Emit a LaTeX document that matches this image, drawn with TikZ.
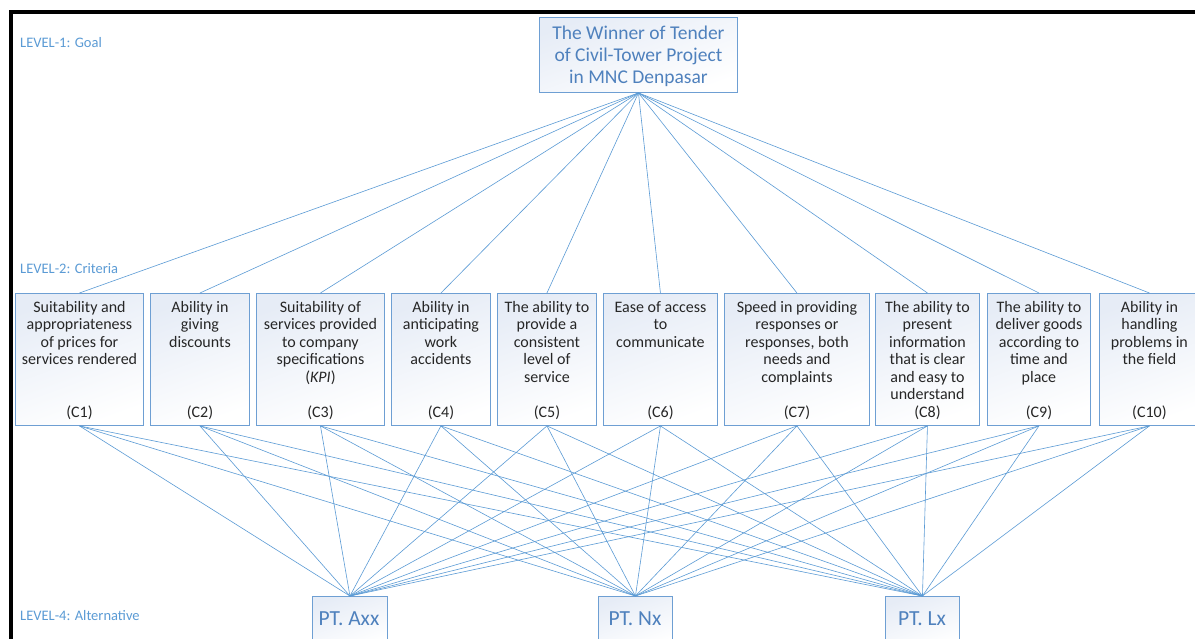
\documentclass[tikz,border=0pt]{standalone}
\usepackage{fontspec}
\setmainfont{Carlito}
\definecolor{lineblue}{HTML}{5B9BD5}
\definecolor{boxblue}{HTML}{6E9FD3}
\definecolor{goaltext}{HTML}{4F81BD}
\definecolor{lvltext}{HTML}{5B9BD5}
\definecolor{crittext}{HTML}{262626}
\definecolor{shadeblue}{HTML}{E6ECF6}
\begin{document}
\begin{tikzpicture}[x=1pt,y=-1pt,
  boxst/.style={draw=boxblue, line width=0.9pt, top color=shadeblue, bottom color=white, shading angle=20, inner sep=0pt, anchor=north west},
  crittxt/.style={font=\fontsize{16}{17.5}\selectfont, text=crittext, align=center, inner sep=0pt, anchor=north},
  cid/.style={font=\fontsize{16}{17.5}\selectfont, text=crittext, inner sep=0pt},
  lvl/.style={font=\fontsize{14.5}{16}\selectfont, text=lvltext, anchor=west, inner sep=0pt},
  conn/.style={draw=lineblue, line width=0.6pt},
  goaltxt/.style={font=\fontsize{19.5}{22}\selectfont, text=goaltext, align=center, inner sep=0pt},
  alttxt/.style={font=\fontsize{21.5}{24}\selectfont, text=goaltext, inner sep=0pt}
]
\useasboundingbox (0,0) rectangle (1195,638);
\fill[white] (0,0) rectangle (1195,638);
% black frame
\draw[line width=4pt] (11,640) -- (11,12) -- (1197,12);

% level labels
\node[lvl] (l1) at (20,43) {LEVEL-1: Goal};
\node[lvl] (l2) at (20,269) {LEVEL-2: Criteria};
\node[lvl] (l4) at (20,616) {LEVEL-4: Alternative};

% goal
\node[boxst, minimum width=198, minimum height=75] (goal) at (539,17) {};
\node[goaltxt] (goalt) at ([yshift=-1.5pt]goal.center) {The Winner of Tender\\of Civil-Tower Project\\in MNC Denpasar};

% criteria boxes
\node[boxst, minimum width=128, minimum height=132] (c1) at (15,293) {};
\node[boxst, minimum width=99, minimum height=132] (c2) at (150,293) {};
\node[boxst, minimum width=128, minimum height=132] (c3) at (256,293) {};
\node[boxst, minimum width=99, minimum height=132] (c4) at (391,293) {};
\node[boxst, minimum width=99, minimum height=132] (c5) at (497,293) {};
\node[boxst, minimum width=114, minimum height=132] (c6) at (603,293) {};
\node[boxst, minimum width=145, minimum height=132] (c7) at (724,293) {};
\node[boxst, minimum width=104, minimum height=132] (c8) at (875,293) {};
\node[boxst, minimum width=103, minimum height=132] (c9) at (987,293) {};
\node[boxst, minimum width=100, minimum height=132] (c10) at (1099,293) {};

\node[crittxt] (t1) at ([yshift=-8pt]c1.north) {Suitability and\\appropriateness\\of prices for\\services rendered};
\node[crittxt] (t2) at ([yshift=-8pt]c2.north) {Ability in\\giving\\discounts};
\node[crittxt] (t3) at ([yshift=-8pt]c3.north) {Suitability of\\services provided\\to company\\specifications\\(\textit{KPI})};
\node[crittxt] (t4) at ([yshift=-8pt]c4.north) {Ability in\\anticipating\\work\\accidents};
\node[crittxt] (t5) at ([yshift=-8pt]c5.north) {The ability to\\provide a\\consistent\\level of\\service};
\node[crittxt] (t6) at ([yshift=-8pt]c6.north) {Ease of access\\to\\communicate};
\node[crittxt] (t7) at ([yshift=-8pt]c7.north) {Speed in providing\\responses or\\responses, both\\needs and\\complaints};
\node[crittxt] (t8) at ([yshift=-8pt]c8.north) {The ability to\\present\\information\\that is clear\\and easy to\\understand};
\node[crittxt] (t9) at ([yshift=-8pt]c9.north) {The ability to\\deliver goods\\according to\\time and\\place};
\node[crittxt] (t10) at ([yshift=-8pt]c10.north) {Ability in\\handling\\problems in\\the field};

\foreach \i in {1,...,10} {
  \node[cid] (id\i) at ([yshift=13pt]c\i.south) {(C\i)};
}

% alternatives
\node[boxst, minimum width=75, minimum height=50] (a1) at (312,596) {};
\node[boxst, minimum width=74, minimum height=50] (a2) at (598,596) {};
\node[boxst, minimum width=74, minimum height=50] (a3) at (885,596) {};
\node[alttxt] (at1) at (349,619) {PT. Axx};
\node[alttxt] (at2) at (635,619) {PT. Nx};
\node[alttxt] (at3) at (922,619) {PT. Lx};

% connectors goal -> criteria
\foreach \i in {1,...,10} {
  \draw[conn] (goal.south) -- (c\i.north);
}
% connectors criteria -> alternatives
\foreach \i in {1,...,10} {
  \foreach \a in {a1,a2,a3} {
    \draw[conn] (c\i.south) -- (\a.north);
  }
}
\end{tikzpicture}
\end{document}
